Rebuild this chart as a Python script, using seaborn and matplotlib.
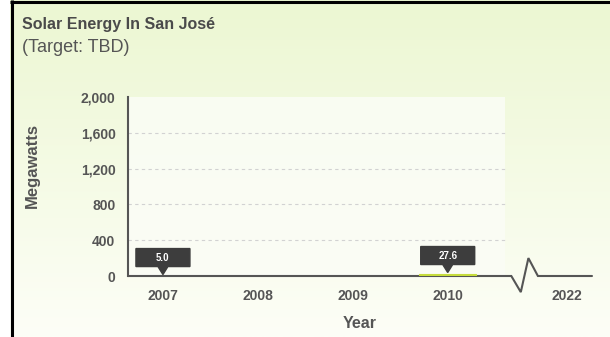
import numpy as np
import pandas as pd
import matplotlib
matplotlib.use("Agg")
import matplotlib.pyplot as plt
import seaborn as sns
from matplotlib import transforms as mtransforms
from matplotlib.patches import Polygon, Rectangle

# ---- data ----
years = ["2007", "2008", "2009", "2010", "2022"]
megawatts = [5.0, 6.0, 10.0, 27.6, np.nan]
callout_labels = ["5.0", None, None, "27.6", None]
bar_colors = ["#555555", "#555555", "#555555", "#c6dc3c", "#c6dc3c"]
y_ticks = [0, 400, 800, 1200, 1600, 2000]
title = "Solar Energy In San José"
subtitle = "(Target: TBD)"

sns.set_theme(style="white")
plt.rcParams["font.family"] = ["Liberation Sans", "DejaVu Sans"]

W, H = 610, 337
fig = plt.figure(figsize=(W / 100, H / 100), dpi=100)

# ---- background gradient + frame ----
bg = fig.add_axes([0, 0, 1, 1], zorder=-10)
g = np.linspace(0, 1, 256)[:, None, None]
top_c = np.array([236, 247, 210]) / 255
bot_c = np.array([253, 254, 247]) / 255
img = top_c * (1 - g) + bot_c * g
bg.imshow(img, aspect="auto", extent=[0, 1, 0, 1], origin="upper")
bg.add_patch(Rectangle((0, 0), 10 / W, 1, color="white", lw=0))
bg.plot([11.5 / W, 11.5 / W], [0, 1], color="black", lw=2.2, solid_capstyle="butt")
bg.plot([10 / W, 1], [1 - 1.5 / H, 1 - 1.5 / H], color="black", lw=2.2, solid_capstyle="butt")
bg.set_xlim(0, 1)
bg.set_ylim(0, 1)
bg.axis("off")

# ---- main axes ----
ax = fig.add_axes([128 / W, 61 / H, 464 / W, 179 / H])
ax.patch.set_alpha(0)

x_pos = np.arange(len(years), dtype=float)
x_pos[-1] += 0.25  # gap for the axis break
df = pd.DataFrame({"pos": x_pos, "year": years, "mw": megawatts})

x_left, x_right = -0.368, 4.52
plot_end = 3.6

sns.barplot(data=df, x="pos", y="mw", hue="year", palette=bar_colors,
            native_scale=True, width=0.6, legend=False, ax=ax, saturation=1)
for cont in ax.containers:
    for p in cont:
        if p.get_height() > 20:
            p.set_zorder(4)
            p.set_edgecolor(p.get_facecolor())
            p.set_linewidth(0.8)
        else:
            p.set_zorder(2)

# whitish plot area
ax.add_patch(Rectangle((x_left, 0), plot_end - x_left, 2000, color="#fbfdf6",
                       alpha=0.85, lw=0, zorder=0))

# baseline with zig-zag break
xt = ax.get_xaxis_transform()
bx = [x_left, 3.67, 3.77, 3.85, 3.95, x_right]
by = [0, 0, -0.09, 0.10, 0, 0]
ax.plot(bx, by, transform=xt, color="#555555", lw=1.5, clip_on=False, zorder=3,
        solid_joinstyle="miter")

# gridlines
ax.hlines(y_ticks[1:-1], x_left, plot_end, colors="#d2d2d2", linestyles=(0, (3, 3)),
          lw=0.8, zorder=1)

ax.set_xlim(x_left, x_right)
ax.set_ylim(0, 2000)

# spines
for s in ["top", "right", "bottom"]:
    ax.spines[s].set_visible(False)
ax.spines["left"].set_color("#555555")
ax.spines["left"].set_linewidth(1.5)

# ticks
ax.set_yticks(y_ticks, [f"{v:,}" for v in y_ticks])
ax.set_xticks(x_pos, years)
ax.tick_params(axis="both", length=0, colors="#555555", labelsize=10)
ax.tick_params(axis="y", pad=9)
ax.tick_params(axis="x", pad=9)
for lab in ax.get_xticklabels() + ax.get_yticklabels():
    lab.set_fontweight("bold")

ax.set_xlabel("Year", fontsize=11.5, fontweight="bold", color="#555555")
ax.set_ylabel("Megawatts", fontsize=12, fontweight="bold", color="#555555")
ax.xaxis.set_label_coords(0.5, -0.225)
ax.yaxis.set_label_coords(-0.19, 0.62)

# callouts
shape_px = [(-27, 9), (-5, 9), (0, 1), (5, 9), (27, 9), (27, 27), (-27, 27)]
shape_in = [(a / 100, b / 100) for a, b in shape_px]
for xp, val, lab in zip(x_pos, megawatts, callout_labels):
    if lab is None:
        continue
    tr = fig.dpi_scale_trans + mtransforms.ScaledTranslation(xp, val, ax.transData)
    ax.add_patch(Polygon(shape_in, closed=True, transform=tr, color="#3d3d3d",
                         clip_on=False, zorder=6))
    ax.text(0, 0.18, lab, transform=tr, ha="center", va="center", color="white",
            fontsize=7, fontweight="bold", zorder=7, clip_on=False)

# titles
fig.text(22 / W, 1 - 25 / H, title, fontsize=11.5, fontweight="bold", color="#4a4a4a",
         va="center", ha="left")
fig.text(22 / W, 1 - 48 / H, subtitle, fontsize=13, color="#555555",
         va="center", ha="left")

fig.savefig("out.png", dpi=100)
